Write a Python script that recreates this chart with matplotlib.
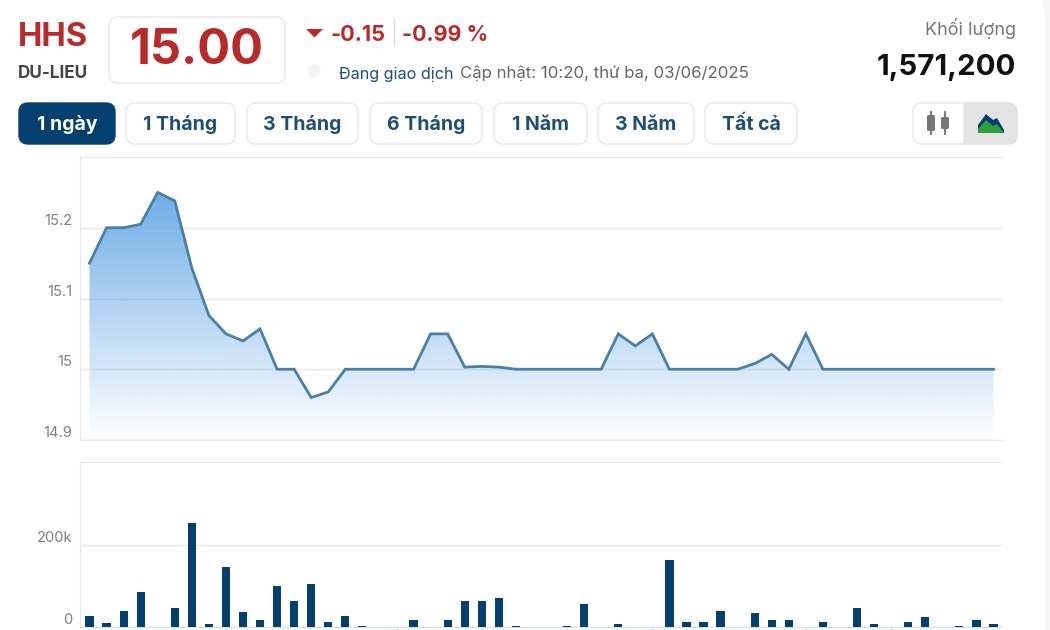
import numpy as np
import matplotlib
matplotlib.use("Agg")
import matplotlib.pyplot as plt
from matplotlib.patches import FancyBboxPatch, Polygon, Circle, PathPatch
from matplotlib.path import Path
from matplotlib.colors import to_rgb

plt.rcParams['font.family'] = ['Inter', 'Noto Sans', 'DejaVu Sans']

# ---- data ----
price = [15.15, 15.20, 15.20, 15.205, 15.25, 15.238, 15.143, 15.076, 15.05, 15.04,
         15.057, 15.0, 15.0, 14.96, 14.968, 15.0, 15.0, 15.0, 15.0, 15.0,
         15.05, 15.05, 15.003, 15.004, 15.003, 15.0, 15.0, 15.0, 15.0, 15.0,
         15.0, 15.05, 15.033, 15.05, 15.0, 15.0, 15.0, 15.0, 15.0, 15.008,
         15.021, 15.0, 15.05, 15.0, 15.0, 15.0, 15.0, 15.0, 15.0, 15.0,
         15.0, 15.0, 15.0, 15.0]
volume = [27600, 10000, 40000, 85000, 0, 47000, 255000, 7000, 148000, 37000,
          17000, 100000, 64000, 105000, 14000, 28000, 4000, 0, 0, 17000,
          0, 17000, 64000, 64000, 71000, 4000, 0, 0, 4000, 58000,
          0, 7000, 0, 0, 165000, 14000, 14000, 40000, 0, 34000,
          17000, 17000, 0, 14000, 0, 47000, 7000, 0, 14000, 24000,
          0, 4000, 17000, 7000]
price_ticks = [14.9, 15.0, 15.1, 15.2]
price_tick_labels = ['14.9', '15', '15.1', '15.2']
volume_ticks = [0, 200000]
volume_tick_labels = ['0', '200k']
time_ticks = [3, 8, 13, 18, 23, 28, 33, 37, 42, 47, 52]
range_labels = ['1 ngày', '1 Tháng', '3 Tháng', '6 Tháng', '1 Năm', '3 Năm', 'Tất cả']

W, H = 1050, 630
RED = '#B92B2B'
NAVY = '#04406F'
GRID = '#E8E8E8'
TICK = '#808080'
x = np.arange(len(price))

fig = plt.figure(figsize=(W / 100, H / 100), dpi=100, facecolor='white')


def axes_px(l, t, r, b):
    return fig.add_axes([l / W, 1 - b / H, (r - l) / W, (b - t) / H])


# ---- price panel ----
ax = axes_px(80, 157, 1002, 440)
ax.set_xlim(-0.557, 53.5)
ax.set_ylim(14.9, 15.3)
rgba = np.ones((256, 2, 4))
rgba[..., :3] = to_rgb('#6FAEE8')
peak = max(price)
rows = np.linspace(14.9, 15.3, 256)
rgba[..., 3] = np.clip((rows - 14.9) / (peak - 14.9), 0.02, 1.0)[:, None]
im = ax.imshow(rgba, origin='lower', aspect='auto', extent=(-0.557, 53.5, 14.9, 15.3), zorder=2,
               interpolation='bilinear')
clip_verts = np.vstack([[x[0], 14.9], np.column_stack([x, price]), [x[-1], 14.9]])
im.set_clip_path(Polygon(clip_verts, closed=True, transform=ax.transData))
ax.plot(x, price, color='#4A80A8', lw=2.0, zorder=3, solid_joinstyle='miter')
ax.set_yticks(price_ticks, price_tick_labels)
ax.set_xticks([])
ax.grid(axis='y', color=GRID, lw=1)
ax.set_axisbelow(True)
ax.tick_params(axis='y', length=0, pad=5.5, labelsize=10.6, labelcolor=TICK)
for lab in ax.get_yticklabels():
    lab.set_verticalalignment('bottom')
for s in ('right', 'bottom'):
    ax.spines[s].set_visible(False)
ax.axhline(14.9, color=GRID, lw=1, zorder=1, clip_on=False)
ax.spines['left'].set_color(GRID)
ax.spines['top'].set_color(GRID)

# ---- volume panel ----
av = axes_px(80, 462, 1002, 627.3)
av.set_xlim(-0.557, 53.5)
av.set_ylim(0, 403000)
av.bar(x, volume, width=0.48, color=NAVY, zorder=3)
av.set_yticks(volume_ticks, volume_tick_labels)
av.set_xticks(time_ticks, [''] * len(time_ticks))
av.tick_params(axis='x', length=3, width=1, color='#CFE0F0')
av.grid(axis='y', color=GRID, lw=1)
av.set_axisbelow(True)
av.tick_params(axis='y', length=0, pad=5.5, labelsize=10.6, labelcolor=TICK)
for lab in av.get_yticklabels():
    lab.set_verticalalignment('bottom')
av.spines['right'].set_visible(False)
av.spines['left'].set_color(GRID)
av.spines['top'].set_color(GRID)
av.spines['bottom'].set_color('#D5E0EA')

# ---- header overlay in pixel space ----
ui = fig.add_axes([0, 0, 1, 1], zorder=10)
ui.set_xlim(0, W)
ui.set_ylim(H, 0)
ui.axis('off')
ui.patch.set_alpha(0)


def box(l, t, r, b, fc='white', ec='#E8E8E8', rad=9):
    ui.add_patch(FancyBboxPatch((l + rad, t + rad), r - l - 2 * rad, b - t - 2 * rad,
                                boxstyle=f'round,pad={rad},rounding_size={rad}',
                                fc=fc, ec=ec, lw=1))


def label(px, py, s, size, color, weight='normal', ha='left'):
    ui.text(px, py, s, fontsize=size, color=color, fontweight=weight, ha=ha, va='center')


label(18, 37.5, 'HHS', 23.5, RED, 'bold')
label(18, 74, 'DU-LIEU', 12.3, '#444444', 'bold')
box(109, 17, 285, 83)
label(197, 51, '15.00', 35, RED, 'bold', ha='center')
ui.add_patch(Polygon([(306, 29), (323, 29), (314.5, 37.5)], fc=RED, ec='none'))
label(330, 35, '-0.15', 15.6, RED, 'bold')
ui.plot([393.5, 393.5], [19, 46], color='#DDDDDD', lw=1)
label(402, 35, '-0.99 %', 15.4, RED, 'bold')
ui.add_patch(Circle((314, 71), 6.5, fc='#F3F4F6', ec='none'))
label(339, 74, 'Đang giao dịch', 11.6, '#1F4E79')
label(460, 73, 'Cập nhật: 10:20, thứ ba, 03/06/2025', 12.1, '#666666')
label(1016, 28.5, 'Khối lượng', 13, '#777777', ha='right')
label(1016.5, 67.5, '1,571,200', 21.2, '#111111', 'bold', ha='right')

btn_edges = [(19, 115), (126, 235), (247, 358), (370, 482), (494, 587), (598, 694), (705, 797)]
for i, ((l, r), s) in enumerate(zip(btn_edges, range_labels)):
    active = i == 0
    box(l, 103, r, 144, fc=NAVY if active else 'white', ec=NAVY if active else '#E8E8E8')
    label((l + r) / 2, 125, s, 14, 'white' if active else '#1D4E77', 'bold', ha='center')

# chart type toggle
box(913, 103, 1017, 144)
ui.add_patch(PathPatch(Path([(964, 103), (1008, 103), (1017, 103), (1017, 112), (1017, 135),
                             (1017, 144), (1008, 144), (964, 144), (964, 103)],
                            [Path.MOVETO, Path.LINETO, Path.CURVE3, Path.CURVE3, Path.LINETO,
                             Path.CURVE3, Path.CURVE3, Path.LINETO, Path.CLOSEPOLY]),
                       fc='#E3E3E3', ec='#E3E3E3', lw=1))
for cx, t, b in ((931, 115, 131), (945, 117, 129)):
    ui.plot([cx, cx], [112, 134], color='#777777', lw=1.4)
    ui.add_patch(FancyBboxPatch((cx - 4, t), 8, b - t, boxstyle='round,pad=0,rounding_size=1.5',
                                fc='#777777', ec='none'))
ui.add_patch(Polygon([(978, 133), (978, 125), (986, 114), (993, 120), (997, 118), (1004, 130), (1004, 133)],
                     fc=NAVY, ec='none'))
ui.add_patch(Polygon([(978, 133), (978, 129), (986, 120), (993, 126), (997, 124), (1004, 133)],
                     fc='#2E9E3A', ec='none'))

# page edge on the right
ui.add_patch(PathPatch(Path([(1041, 0), (1045, 8), (1045, 18), (1045, H), (W, H), (W, 0), (1041, 0)],
                            [Path.MOVETO, Path.CURVE3, Path.CURVE3, Path.LINETO, Path.LINETO, Path.LINETO,
                             Path.CLOSEPOLY]),
                       fc='#F6F7F8', ec='none'))

fig.savefig('out.png', dpi=100)
